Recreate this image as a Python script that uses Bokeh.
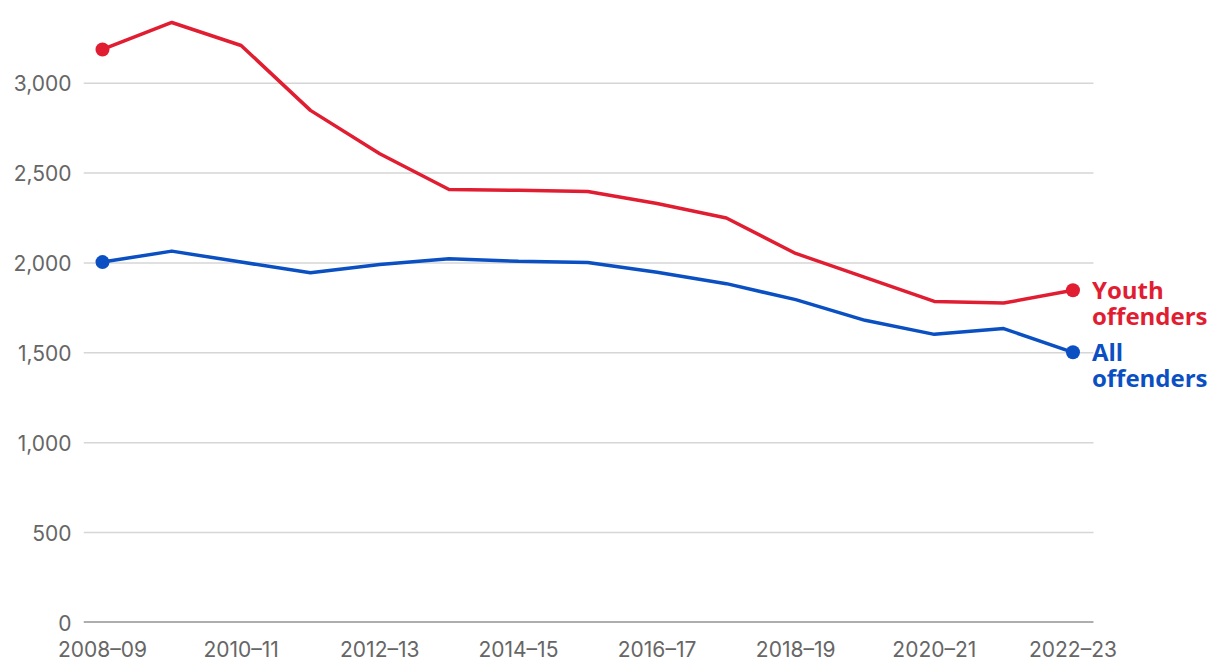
from bokeh.plotting import figure
from bokeh.models import FixedTicker, NumeralTickFormatter
from bokeh.core.properties import value
from bokeh.embed import file_html
from bokeh.resources import INLINE

categories = ["2008–09", "2009–10", "2010–11", "2011–12", "2012–13", "2013–14", "2014–15",
              "2015–16", "2016–17", "2017–18", "2018–19", "2019–20", "2020–21", "2021–22", "2022–23"]
youth = [3188, 3338, 3210, 2849, 2608, 2409, 2404, 2398, 2331, 2250, 2053, 1920, 1786, 1777, 1848]
all_off = [2005, 2066, 2005, 1946, 1992, 2024, 2009, 2003, 1948, 1885, 1796, 1681, 1603, 1635, 1503]
y_ticks = [0, 500, 1000, 1500, 2000, 2500, 3000]
x_tick_idx = [0, 2, 4, 6, 8, 10, 12, 14]

RED = "#e11d32"
BLUE = "#0b50c3"
TICK_FONT = "Inter"

xs = list(range(len(categories)))
X0, X1 = -0.274, 16.013      # frame spans label area on the right
GRID_END = 14.296            # gridlines/axis stop just after last category

p = figure(width=1212, height=664, output_backend="svg", toolbar_location=None,
           x_range=(X0, X1), y_range=(0, 3399),
           min_border_left=83, min_border_right=0, min_border_top=11, min_border_bottom=42)
p.outline_line_color = None
p.background_fill_color = "white"
p.border_fill_color = "white"
p.xgrid.visible = False
p.ygrid.visible = False

# horizontal gridlines (data: y tick values)
p.segment(x0=[X0] * (len(y_ticks) - 1), y0=y_ticks[1:], x1=[GRID_END] * (len(y_ticks) - 1), y1=y_ticks[1:],
          line_color="#d6d6d6", line_width=1.5)
# baseline at 0
p.segment(x0=[X0], y0=[y_ticks[0]], x1=[GRID_END], y1=[y_ticks[0]], line_color="#5f5f5f", line_width=2)

p.xaxis.ticker = FixedTicker(ticks=x_tick_idx)
p.xaxis.major_label_overrides = {i: categories[i] for i in x_tick_idx}
p.xaxis.axis_line_color = None
p.xaxis.major_tick_line_color = None
p.xaxis.minor_tick_line_color = None
p.xaxis.major_label_standoff = 8
p.xaxis.major_label_text_font = TICK_FONT
p.xaxis.major_label_text_font_size = "21px"
p.xaxis.major_label_text_color = "#666666"

p.yaxis.ticker = FixedTicker(ticks=y_ticks)
p.yaxis.formatter = NumeralTickFormatter(format="0,0")
p.yaxis.axis_line_color = None
p.yaxis.major_tick_line_color = None
p.yaxis.minor_tick_line_color = None
p.yaxis.major_label_standoff = 6
p.yaxis.major_label_text_font = TICK_FONT
p.yaxis.major_label_text_font_size = "21px"
p.yaxis.major_label_text_color = "#666666"

p.line(xs, youth, line_color=RED, line_width=3.5, line_join="round")
p.line(xs, all_off, line_color=BLUE, line_width=3.5, line_join="round")

ends = [0, len(categories) - 1]
p.scatter([xs[i] for i in ends], [youth[i] for i in ends], size=14, fill_color=RED, line_color=None)
p.scatter([xs[i] for i in ends], [all_off[i] for i in ends], size=14, fill_color=BLUE, line_color=None)

def add_label(series, color, lines):
    for k, t in enumerate(lines):
        p.text(x=[xs[-1]], y=[series[-1]], text=[t], x_offset=19, y_offset=-1 + 26 * k,
               text_baseline="middle", text_align="left", text_color=color,
               text_font=value("Open Sans"), text_font_style="bold", text_font_size="24px")

add_label(youth, RED, ["Youth", "offenders"])
add_label(all_off, BLUE, ["All", "offenders"])

open("out.html", "w").write(file_html(p, INLINE))
